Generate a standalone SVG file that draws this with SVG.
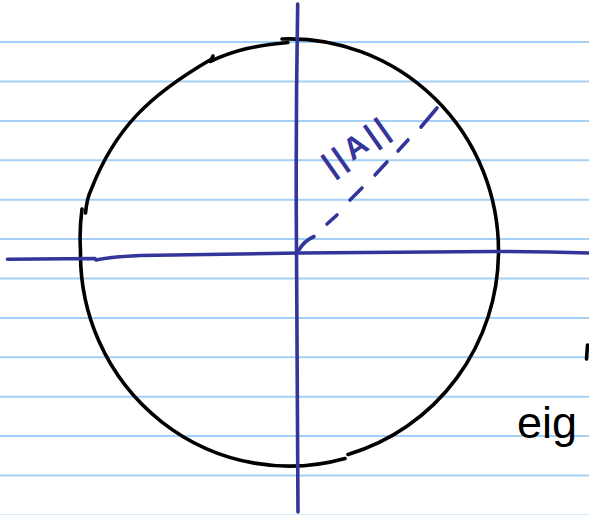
<svg xmlns="http://www.w3.org/2000/svg" width="589" height="515" viewBox="0 0 589 515">
<style>
.rule{stroke:#a4d0f6;stroke-width:2;fill:none}
.ink{stroke:#000;stroke-width:3.6;fill:none;stroke-linecap:round;stroke-linejoin:round}
.axis{stroke:#34359a;stroke-width:3.6;fill:none;stroke-linecap:round;stroke-linejoin:round}
.blue{fill:#34359a;font-family:"Liberation Sans",Arial,sans-serif;font-weight:bold}
.hand{fill:#000;font-family:"Liberation Sans",Arial,sans-serif}
</style>
<rect width="589" height="515" fill="#fff"/>
<g id="paper">
<path class="rule" d="M0,42.1H589M0,81.5H589M0,120.9H589M0,160.3H589M0,199.7H589M0,239.1H589M0,278.5H589M0,317.9H589M0,357.3H589M0,396.7H589M0,436.1H589M0,475.5H589"/>
<path d="M0,514.6H589" stroke="#a4d0f6" stroke-width="1" opacity="0.5"/>
</g>
<g id="circle">
<path class="ink" d="M282,39 A209,212 0 0 1 498.5,251 A209,212 0 0 1 348,454.5"/>
<path class="ink" d="M345,458.5 A209,212 0 0 1 80.5,251 A209,212 0 0 1 82,209"/>
<path class="ink" d="M85.5,213 Q87,198 91,190 C115,128 150,95 210,60"/>
<path class="ink" d="M213,56 L210,61.5 C235,50 255,45.5 288,42.5"/>
</g>
<g id="axes">
<path class="axis" d="M297.7,4 Q295.5,130 296.5,250 Q297,380 298,512"/>
<path class="axis" d="M7.5,259.3 L95,258.5 L96,260 Q110,257 140,255.5 L300,253 L460,251.7 Q530,251 589,253"/>
</g>
<g id="radius">
<path class="axis" d="M299,250 Q304,241 314,236.5 M327,224 L337,215 M350,200 L362,188 M375,175 L387,162 M398,151 L408,140 M421,127 L437,108"/>
<text class="blue" font-size="31" letter-spacing="4" text-anchor="middle" transform="translate(355,146) rotate(-35)" x="2" y="11">||A||</text>
</g>
<g id="label">
<text class="hand" font-size="45" x="517" y="438">eig</text>
<path class="ink" d="M587.5,345 L586.5,359" stroke-width="4"/>
</g>
</svg>
